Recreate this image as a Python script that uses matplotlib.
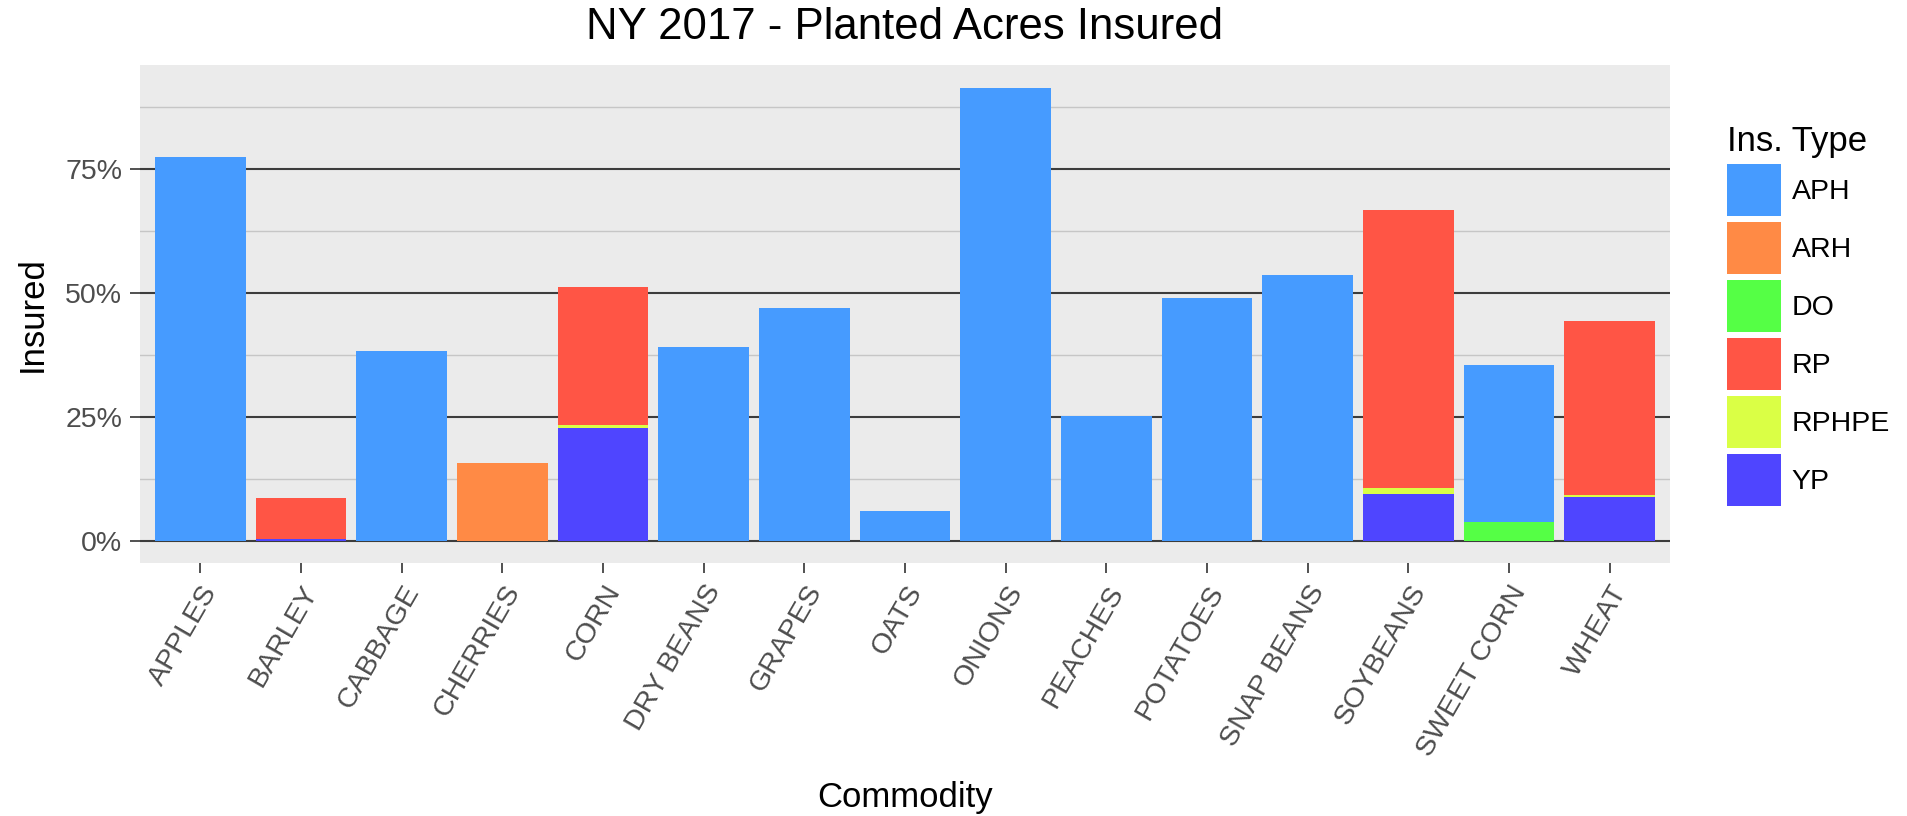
import matplotlib
matplotlib.use("Agg")
import matplotlib.pyplot as plt
import numpy as np
from matplotlib.patches import Patch
from matplotlib.ticker import FixedLocator, PercentFormatter

plt.rcParams['font.family'] = ['Liberation Sans', 'DejaVu Sans']

commodities = ["APPLES", "BARLEY", "CABBAGE", "CHERRIES", "CORN", "DRY BEANS",
               "GRAPES", "OATS", "ONIONS", "PEACHES", "POTATOES", "SNAP BEANS",
               "SOYBEANS", "SWEET CORN", "WHEAT"]

# percent of planted acres, by insurance type
aph   = [77.5, 0, 38.3, 0, 0, 39.2, 47.1, 6.0, 91.5, 25.2, 49.0, 53.7, 0, 31.7, 0]
arh   = [0, 0, 0, 15.8, 0, 0, 0, 0, 0, 0, 0, 0, 0, 0, 0]
do    = [0, 0, 0, 0, 0, 0, 0, 0, 0, 0, 0, 0, 0, 3.8, 0]
rp    = [0, 8.1, 0, 0, 27.9, 0, 0, 0, 0, 0, 0, 0, 56.2, 0, 35.1]
rphpe = [0, 0, 0, 0, 0.5, 0, 0, 0, 0, 0, 0, 0, 1.2, 0, 0.3]
yp    = [0, 0.5, 0, 0, 22.9, 0, 0, 0, 0, 0, 0, 0, 9.4, 0, 8.9]

ins_types = ["APH", "ARH", "DO", "RP", "RPHPE", "YP"]
colors = {"APH": "#469BFF", "ARH": "#FF8A45", "DO": "#55FF45",
          "RP": "#FF5545", "RPHPE": "#DAFF45", "YP": "#4F45FF"}

series = {"APH": aph, "ARH": arh, "DO": do, "RP": rp, "RPHPE": rphpe, "YP": yp}

fig = plt.figure(figsize=(19.08, 8.16), dpi=100)
ax = fig.add_axes([140/1908, 1-563/816, 1530/1908, 498/816])
ax.set_facecolor("#EBEBEB")

x = np.arange(len(commodities))
bottom = np.zeros(len(commodities))
# ggplot stacks the last level at the bottom
for t in ins_types[::-1]:
    vals = np.array(series[t]) / 100.0
    ax.bar(x, vals, width=0.9, bottom=bottom, color=colors[t], zorder=3)
    bottom += vals

ax.set_xlim(-0.6, len(commodities) - 0.4)
ax.set_ylim(-0.0444, 0.9605)

ax.yaxis.set_major_locator(FixedLocator([0, 0.25, 0.5, 0.75]))
ax.yaxis.set_minor_locator(FixedLocator([0.125, 0.375, 0.625, 0.875]))
ax.yaxis.set_major_formatter(PercentFormatter(xmax=1, decimals=0))
ax.grid(axis="y", which="major", color="#3C3C3C", linewidth=1.5, zorder=1)
ax.grid(axis="y", which="minor", color="#C6C6C6", linewidth=1.0, zorder=1)
ax.set_axisbelow(True)

ax.set_xticks(x)
ax.set_xticklabels(commodities, rotation=60, ha="right", va="top",
                   rotation_mode="anchor")
ax.tick_params(axis="both", which="major", length=7.2, width=1.2,
               color="#333333", labelcolor="#4D4D4D", labelsize=20.5, pad=5.5)
ax.tick_params(axis="y", which="minor", length=0)

for s in ax.spines.values():
    s.set_visible(False)

ax.set_ylabel("Insured", fontsize=25)
ax.yaxis.set_label_coords(-0.0706, 0.5)
ax.set_xlabel("Commodity", fontsize=25)
ax.xaxis.set_label_coords(0.5, -0.47)
ax.xaxis.label.set_va("center")
ax.yaxis.label.set_va("center")

ax.text(0.5, 1.076, "NY 2017 - Planted Acres Insured", transform=ax.transAxes,
        ha="center", va="center", fontsize=31.5)

handles = [Patch(facecolor=colors[t], edgecolor="none", label=t) for t in ins_types]
leg = ax.legend(handles=handles, title="Ins. Type", loc="upper left",
                bbox_to_anchor=(1727/1908, 1-125/816),
                bbox_transform=fig.transFigure, frameon=False,
                fontsize=20.5, title_fontsize=25, handlelength=1.9,
                handleheight=2.45, labelspacing=0.2, handletextpad=0.38,
                borderpad=0, borderaxespad=0, alignment="left")

fig.savefig("out.png", dpi=100, facecolor="white")
